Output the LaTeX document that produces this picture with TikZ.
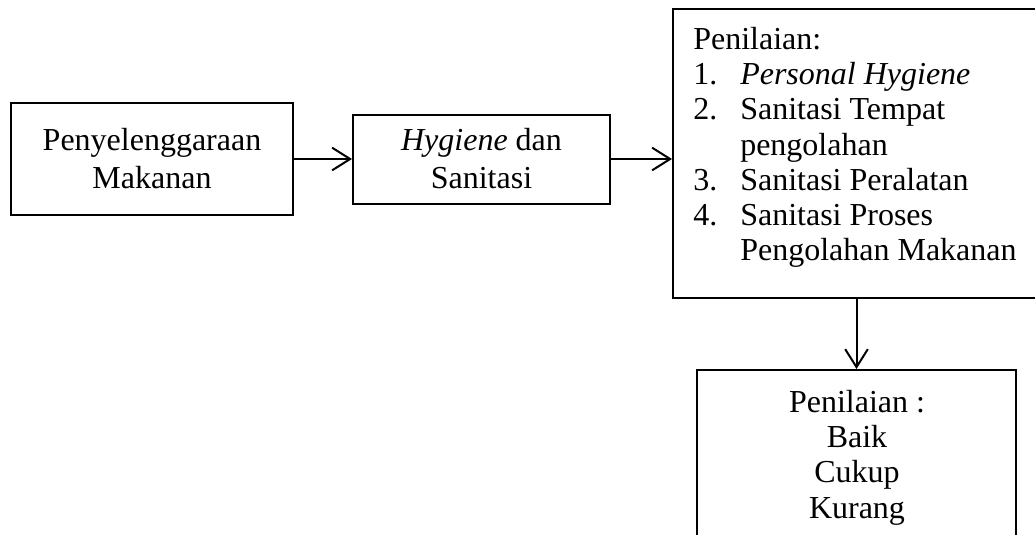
\documentclass[tikz,border=0pt]{standalone}
\usepackage{fontspec}
\setmainfont{Liberation Serif}
\usetikzlibrary{arrows.meta}
\tikzset{
  box/.style={draw=black, line width=1.5pt, rectangle, inner sep=0pt},
  conn/.style={line width=1.5pt, -{Straight Barb[length=13.5pt,width=17pt,line width=1.5pt]}},
  boxtxt/.style={inner sep=0pt, align=center, font=\fontsize{24}{28.5}\selectfont},
  listtxt/.style={inner sep=0pt, align=left, font=\fontsize{24}{26.4}\selectfont},
  ctrtxt/.style={inner sep=0pt, align=center, font=\fontsize{24}{26.4}\selectfont}
}
\begin{document}
\begin{tikzpicture}[x=0.75pt,y=-0.75pt]
\useasboundingbox (0,0) rectangle (1035,535);
\fill[white] (0,0) rectangle (1035,535);
\clip (0,0) rectangle (1035,535);
% boxes
\node[box, boxtxt, minimum width=211.5pt, minimum height=84pt] (b1) at (152,159)
  {Penyelenggaraan\\Makanan};
\node[box, boxtxt, minimum width=192.75pt, minimum height=66.75pt] (b2) at (481.5,159)
  {\textit{Hygiene} dan\\Sanitasi};
\node[box, minimum width=279pt, minimum height=216.75pt] (b3) at (859,153.5) {};
\node[listtxt, anchor=north west] (t3) at (693,27)
  {Penilaian:\\
   \makebox[35.25pt][l]{1.}\textit{Personal Hygiene}\\
   \makebox[35.25pt][l]{2.}Sanitasi Tempat\\
   \hspace*{35.25pt}pengolahan\\
   \makebox[35.25pt][l]{3.}Sanitasi Peralatan\\
   \makebox[35.25pt][l]{4.}Sanitasi Proses\\
   \hspace*{35.25pt}Pengolahan Makanan};
\node[box, minimum width=239.25pt, minimum height=150pt] (b4) at (856.5,470) {};
\node[ctrtxt, anchor=north] (t4) at (857,390)
  {Penilaian :\\Baik\\Cukup\\Kurang};
% connectors
\draw[conn] (b1.east) -- (b1.east -| b2.west);
\draw[conn] (b2.east) -- (b2.east -| b3.west);
\draw[conn] (b4.north |- b3.south) -- (b4.north);
\end{tikzpicture}
\end{document}
